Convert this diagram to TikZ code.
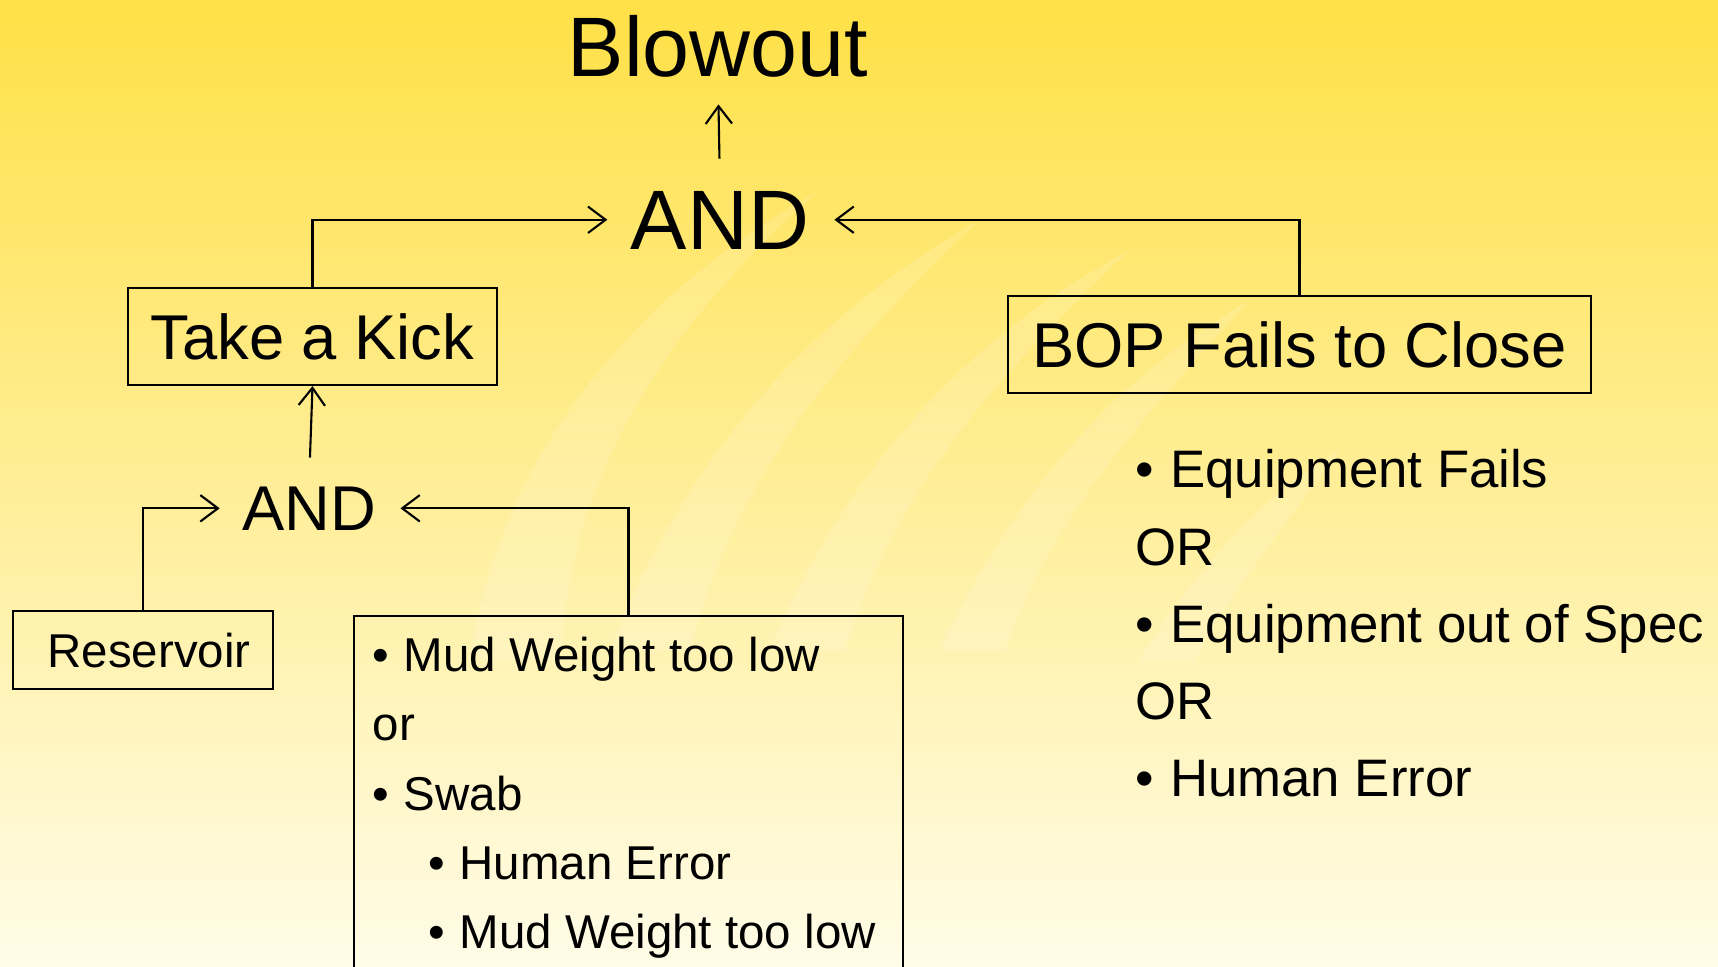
\documentclass[tikz,border=0pt]{standalone}
\usepackage{fontspec}
\setmainfont{Liberation Sans}
\usepackage{tikz}
\usetikzlibrary{positioning,arrows.meta}
\definecolor{slideTop}{RGB}{255,224,70}
\definecolor{slideMid}{RGB}{255,240,155}
\definecolor{slideBot}{RGB}{255,252,232}
\newcommand{\blt}[1][0.31cm]{\makebox[#1][l]{\textbullet}}

\begin{document}
\begin{tikzpicture}[x=0.01cm, y=-0.01cm,
  headline/.style={font=\fontsize{24}{28}\selectfont, inner sep=0pt, text height=17.2pt, text depth=0pt, anchor=base},
  gate/.style={font=\fontsize{18}{22}\selectfont, inner sep=0pt, text height=12.9pt, text depth=0pt, anchor=base},
  box/.style={draw, line width=0.6pt, font=\fontsize{18}{22}\selectfont, text height=12.9pt, text depth=0pt, inner sep=0pt},
  lstitem/.style={font=\fontsize{13.5}{16}\selectfont, inner sep=0pt, anchor=base west},
  bopitem/.style={font=\fontsize{15}{18}\selectfont, inner sep=0pt, anchor=base west},
  arr/.style={-{Straight Barb[length=5pt,width=7.5pt]}, line width=0.6pt},
  swoosh/.style={fill=white, fill opacity=0.14, draw=none}]
\useasboundingbox (0,0) rectangle (1718,967);
\clip (0,0) rectangle (1718,967);
\shade[top color=slideTop, middle color=slideMid, bottom color=slideBot] (0,0) rectangle (1718,967);
% faint logo strokes behind the tree
\fill[swoosh] (470,660) .. controls (500,450) and (640,290) .. (820,190) .. controls (660,330) and (570,480) .. (560,660) -- cycle;
\fill[swoosh] (610,650) .. controls (680,470) and (800,320) .. (980,220) .. controls (830,360) and (730,490) .. (690,650) -- cycle;
\fill[swoosh] (770,650) .. controls (840,480) and (960,340) .. (1130,250) .. controls (990,380) and (890,500) .. (845,650) -- cycle;
\fill[swoosh] (940,650) .. controls (1010,500) and (1110,380) .. (1250,300) .. controls (1140,420) and (1050,520) .. (1005,650) -- cycle;
\fill[swoosh] (1140,660) .. controls (1200,560) and (1270,490) .. (1340,450) .. controls (1290,520) and (1230,590) .. (1195,660) -- cycle;

\node[headline] (blowout) at (718,77) {Blowout};
\node[headline] (andTop) at (720,250) {AND};
\node[box, minimum width=3.69cm, minimum height=0.97cm] (kick) at (312.5,336.5) {Take a Kick};
\node[box, minimum width=5.83cm, minimum height=0.97cm] (bop) at (1299.5,344.5) {BOP Fails to Close};
\node[gate] (andLow) at (309,531) {AND};
\node[box, font=\fontsize{13.5}{16}\selectfont, text height=9.7pt, minimum width=2.6cm, minimum height=0.78cm] (res) at (143,650) {\hspace*{0.12cm}Reservoir};
\node[box, minimum width=5.49cm, minimum height=4cm, anchor=north] (mud) at (628.5,615) {};

\foreach \xx/\yy/\txt [count=\i] in {372/671/{\blt Mud Weight too low}, 372/740/or, 372/810/{\blt Swab},
  428/879/{\blt Human Error}, 428/948/{\blt Mud Weight too low}}
  \node[lstitem] (cause\i) at (\xx,\yy) {\txt};
\foreach \yy/\txt [count=\i] in {488/{\blt[0.35cm]Equipment Fails}, 565/OR, 642/{\blt[0.35cm]Equipment out of Spec},
  719/OR, 796/{\blt[0.35cm]Human Error}}
  \node[bopitem] (fail\i) at (1134.5,\yy) {\txt};

\draw[arr, shorten <=8.6pt, shorten >=7.6pt] (andTop.north) -- (blowout.south);
\draw[arr, shorten >=6.5pt] (kick.north) |- (andTop.west);
\draw[arr, shorten >=7pt] (bop.north) |- (andTop.east);
\draw[arr, shorten <=7.8pt] (andLow.north) -- (kick.south);
\draw[arr, shorten >=6.2pt] (res.north) |- (andLow.west);
\draw[arr, shorten >=6.8pt] (mud.north) |- (andLow.east);
\end{tikzpicture}
\end{document}
